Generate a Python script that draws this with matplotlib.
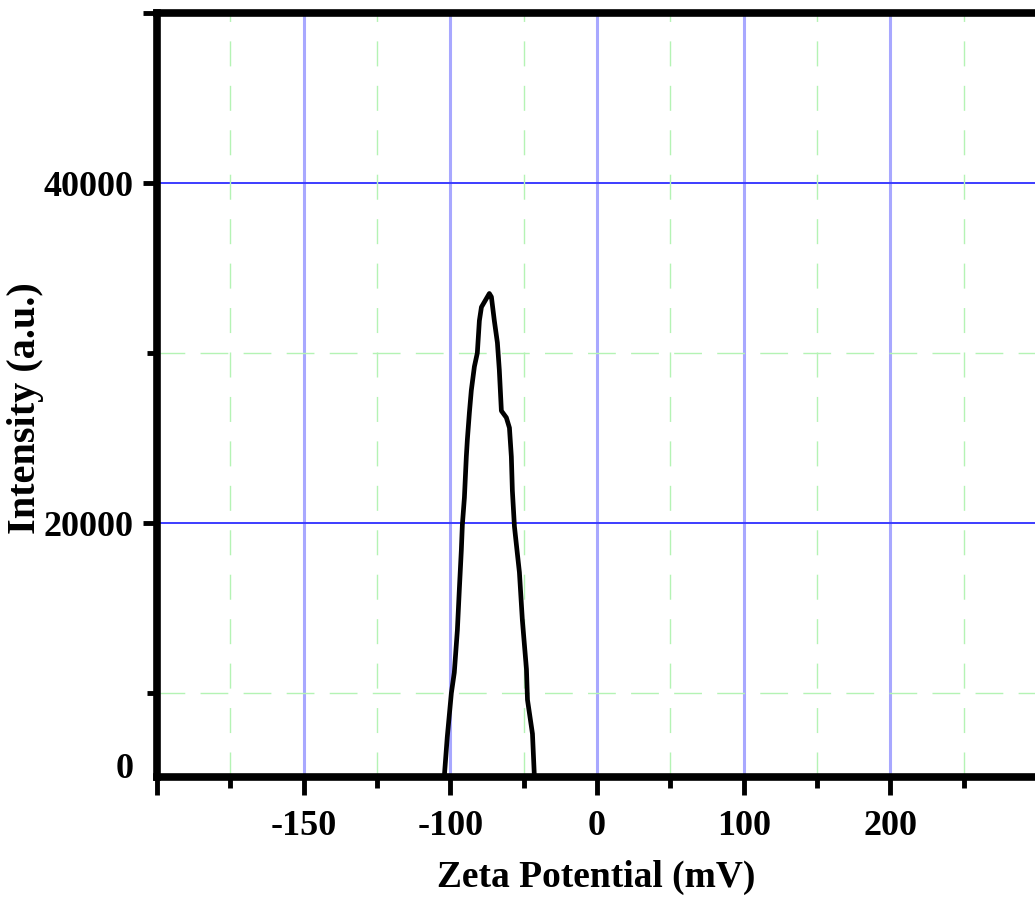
import matplotlib
matplotlib.use("Agg")
import matplotlib.pyplot as plt
from matplotlib.ticker import FixedLocator, FixedFormatter

plt.rcParams['lines.scale_dashes'] = False

# ---- data ----
zeta_mv = [-104.1, -102.1, -99.3, -97.3, -95.2, -93.8, -92.5, -91.8, -90.4, -89.1,
           -88.4, -87.0, -85.7, -83.6, -81.6, -80.2, -78.8, -73.4,
           -72.0, -70.0, -67.9, -66.6, -65.2, -61.8, -59.7, -58.4, -57.7, -56.3,
           -54.3, -52.9, -50.9, -48.1, -47.4, -44.0, -42.7]
intensity = [5100, 7400, 10000, 11200, 13700, 16200, 18400, 19900, 21500, 23900,
             24900, 26500, 27800, 29200, 30000, 31900, 32700, 33500,
             33300, 31900, 30600, 29000, 26600, 26200, 25600, 23900, 21900, 19800,
             18200, 17100, 14300, 11400, 9600, 7600, 5100]

x_tick_pos = [-200, -100, 0, 100, 200]
x_tick_labels = ["-150", "-100", "0", "100", "200"]
x_major_marks = [-300, -200, -100, 0, 100, 200, 300]
x_minor_marks = [-250, -150, -50, 50, 150, 250]
y_tick_pos = [5750, 20000, 40000, 50000]
y_tick_labels = ["0", "20000", "40000", ""]
y_minor_marks = [10000, 30000]
x_label = "Zeta Potential (mV)"
y_label = "Intensity (a.u.)"

serif = ['Liberation Serif', 'DejaVu Serif']

fig = plt.figure(figsize=(10.35, 9.0), dpi=100)
ax = fig.add_axes([157/1035, 123/900, 880/1035, 764/900])

ax.set_xlim(-300, 300)
ax.set_ylim(5060, 50000)

# grid lines
for xv in [-200, -100, 0, 100, 200]:
    ax.axvline(xv, color='#a8a8ff', lw=2.2, zorder=1)
for yv in [20000, 40000]:
    ax.axhline(yv, color='#3c3cff', lw=1.4, zorder=1)
for xv in x_minor_marks:
    ax.axvline(xv, color='#b4f3b4', lw=1.0, dashes=(18, 14), zorder=1)
for yv in y_minor_marks:
    ax.axhline(yv, color='#b4f3b4', lw=1.0, dashes=(20, 11), zorder=1)

ax.plot(zeta_mv, intensity, color='black', lw=3.4, zorder=3,
        solid_joinstyle='round', solid_capstyle='round')

# spines
for s in ['left', 'bottom', 'top']:
    ax.spines[s].set_linewidth(5.5)
    ax.spines[s].set_capstyle('projecting')
ax.spines['right'].set_visible(False)

# x ticks
ax.xaxis.set_major_locator(FixedLocator(x_major_marks))
lab_map = dict(zip(x_tick_pos, x_tick_labels))
ax.xaxis.set_major_formatter(FixedFormatter([lab_map.get(v, "") for v in x_major_marks]))
ax.xaxis.set_minor_locator(FixedLocator(x_minor_marks))
ax.tick_params(axis='x', which='major', direction='out', length=13, width=3.5,
               pad=11, labelsize=26, top=False)
ax.tick_params(axis='x', which='minor', direction='out', length=8, width=3.5, top=False)

# y ticks
ax.yaxis.set_major_locator(FixedLocator(y_tick_pos))
ax.yaxis.set_major_formatter(FixedFormatter(y_tick_labels))
ax.yaxis.set_minor_locator(FixedLocator(y_minor_marks))
ax.tick_params(axis='y', which='major', direction='out', length=10, width=3.5,
               pad=7, labelsize=26, right=False)
ax.tick_params(axis='y', which='minor', direction='out', length=7, width=3.5, right=False)
ax.yaxis.get_major_ticks()[0].tick1line.set_visible(False)

for lab in ax.get_xticklabels() + ax.get_yticklabels():
    lab.set_family(serif)
    lab.set_fontweight('bold')

ax.set_xlabel(x_label, family=serif, fontweight='bold', fontsize=27, va='center')
ax.xaxis.set_label_coords(0.499, -0.132)
ax.set_ylabel(y_label, family=serif, fontweight='bold', fontsize=29, va='center')
ax.yaxis.set_label_coords(-0.149, 0.483)

fig.savefig('out.png', dpi=100)
